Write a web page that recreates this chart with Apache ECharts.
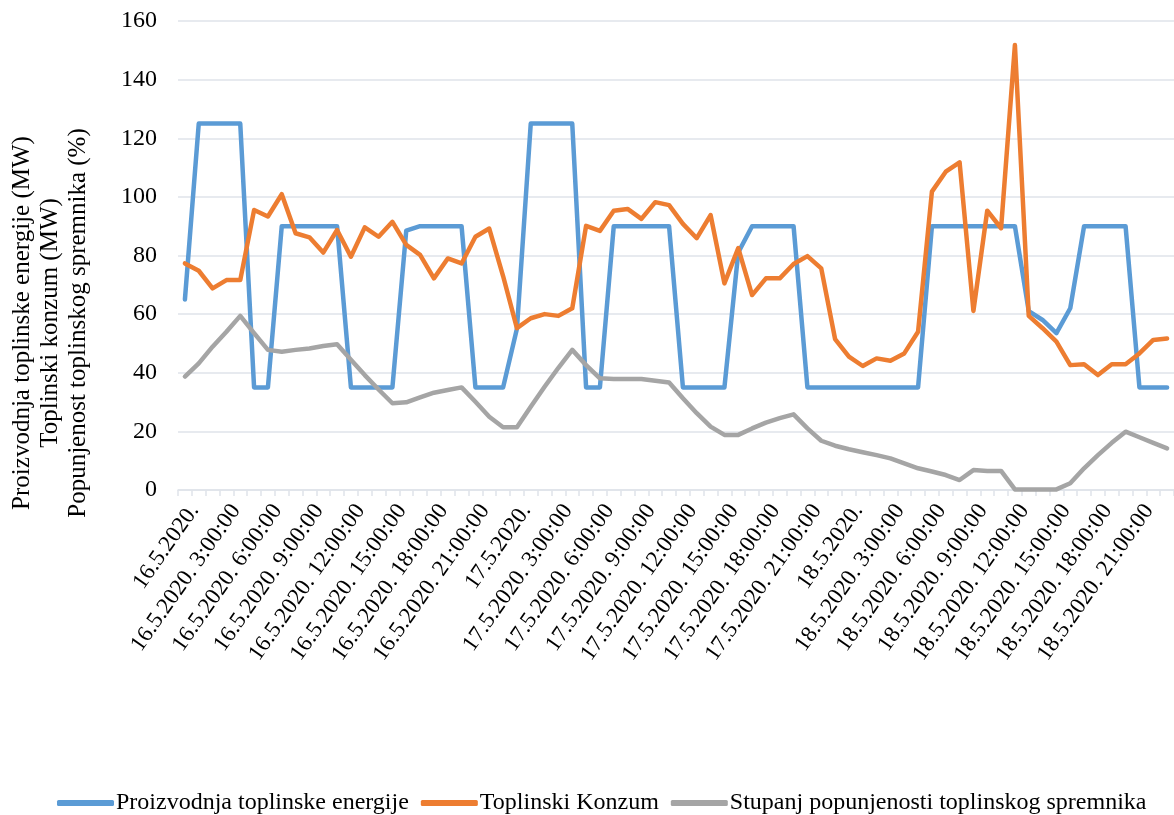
<!DOCTYPE html>
<html>
<head>
<meta charset="utf-8">
<script src="https://cdn.jsdelivr.net/npm/echarts@6/dist/echarts.min.js"></script>
<style>
html,body{margin:0;padding:0;background:#fff;}
#chart{width:1174px;height:815px;}
</style>
</head>
<body>
<div id="chart"></div>
<script>
// Category labels: hourly, 16.5.2020 - 18.5.2020
const days = ['16.5.2020.', '17.5.2020.', '18.5.2020.'];
const hours = ['', '1:00:00', '2:00:00', '3:00:00', '4:00:00', '5:00:00', '6:00:00', '7:00:00', '8:00:00', '9:00:00', '10:00:00', '11:00:00',
  '12:00:00', '13:00:00', '14:00:00', '15:00:00', '16:00:00', '17:00:00', '18:00:00', '19:00:00', '20:00:00', '21:00:00', '22:00:00', '23:00:00'];
const categories = [];
days.forEach(d => hours.forEach(h => categories.push(h ? d + ' ' + h : d)));

const seriesNames = ['Proizvodnja toplinske energije', 'Toplinski Konzum', 'Stupanj popunjenosti toplinskog spremnika'];

const proizvodnja = [
  65, 125, 125, 125, 125, 35, 35, 90, 90, 90, 90, 90,
  35, 35, 35, 35, 88.5, 90, 90, 90, 90, 35, 35, 35,
  55, 125, 125, 125, 125, 35, 35, 90, 90, 90, 90, 90,
  35, 35, 35, 35, 81, 90, 90, 90, 90, 35, 35, 35,
  35, 35, 35, 35, 35, 35, 90, 90, 90, 90, 90, 90,
  90, 61, 58, 53.5, 62, 90, 90, 90, 90, 35, 35, 35
];
const konzum = [
  77.3, 74.8, 68.8, 71.6, 71.6, 95.5, 93.3, 100.9, 87.6, 86.2, 81.0, 88.7,
  79.6, 89.6, 86.4, 91.5, 83.6, 80.2, 72.2, 79.0, 77.3, 86.4, 89.2, 73.0,
  55.2, 58.6, 60.0, 59.4, 62.0, 90.1, 88.4, 95.3, 95.9, 92.5, 98.2, 97.2,
  90.8, 85.9, 93.8, 70.5, 82.5, 66.5, 72.2, 72.2, 77.1, 79.8, 75.6, 51.5,
  45.5, 42.3, 44.9, 44.1, 46.6, 54.0, 101.8, 108.6, 111.8, 61.1, 95.3, 89.3,
  151.8, 59.4, 55.2, 50.6, 42.6, 42.9, 39.2, 42.9, 42.9, 46.6, 51.2, 51.7
];
const spremnik = [
  38.7, 43.2, 48.9, 54.0, 59.4, 53.5, 47.8, 47.2, 47.8, 48.3, 49.1, 49.7,
  44.4, 39.2, 34.3, 29.6, 29.9, 31.6, 33.2, 34.1, 35.0, 30.1, 25.0, 21.4,
  21.4, 28.4, 35.2, 41.7, 47.8, 42.6, 38.1, 37.9, 37.9, 37.9, 37.3, 36.7,
  31.3, 26.2, 21.6, 18.8, 18.8, 21.0, 23.0, 24.5, 25.8, 21.0, 16.8, 15.1,
  13.9, 12.9, 11.9, 10.8, 9.1, 7.4, 6.3, 5.1, 3.4, 6.8, 6.5, 6.5,
  0.2, 0.2, 0.2, 0.2, 2.3, 7.4, 11.9, 16.1, 19.9, 18.0, 16.1, 14.2
];

const yTitle = 'Proizvodnja toplinske energije (MW)\nToplinski konzum (MW)\nPopunjenost toplinskog spremnika (%)';

const FONT = '"Liberation Serif", "Times New Roman", serif';
const colors = ['#5b9bd5', '#ed7d31', '#a5a5a5'];
const gridColor = '#dfe3ea';

const chart = echarts.init(document.getElementById('chart'), null, {renderer: 'canvas'});

function mkLine(name, data, color) {
  return {
    name: name,
    type: 'line',
    data: data,
    showSymbol: false,
    symbol: 'none',
    smooth: false,
    lineStyle: {color: color, width: 4.5, cap: 'round', join: 'round'},
    itemStyle: {color: color},
    emphasis: {disabled: true},
    animation: false
  };
}

chart.setOption({
  animation: false,
  color: colors,
  textStyle: {fontFamily: FONT, color: '#000'},
  grid: {left: 178, top: 21, width: 1000, height: 469, containLabel: false},
  legend: {
    left: 52,
    top: 786,
    icon: 'roundRect',
    itemWidth: 57,
    itemHeight: 6,
    itemGap: 12,
    textStyle: {fontFamily: FONT, fontSize: 24, color: '#000', padding: [0, 0, 0, -3]},
    data: seriesNames
  },
  graphic: [{
    type: 'text',
    x: 50,
    y: 323,
    rotation: Math.PI / 2,
    style: {
      text: yTitle,
      fontFamily: FONT,
      fontSize: 25,
      lineHeight: 28,
      fill: '#000',
      align: 'center',
      verticalAlign: 'middle'
    }
  }],
  xAxis: {
    type: 'category',
    data: categories,
    boundaryGap: true,
    axisLine: {lineStyle: {color: gridColor, width: 1.5}},
    axisTick: {show: true, interval: 0, length: 6, lineStyle: {color: gridColor, width: 1.5}},
    axisLabel: {
      interval: 2,
      rotate: 55,
      margin: 10,
      align: 'right',
      verticalAlign: 'top',
      fontFamily: FONT,
      fontSize: 23,
      color: '#000'
    },
    splitLine: {show: false}
  },
  yAxis: {
    type: 'value',
    min: 0,
    max: 160,
    interval: 20,
    axisLine: {show: false},
    axisTick: {show: false},
    axisLabel: {margin: 21, fontFamily: FONT, fontSize: 24, color: '#000'},
    splitLine: {lineStyle: {color: gridColor, width: 1.5}}
  },
  series: [
    mkLine(seriesNames[0], proizvodnja, colors[0]),
    mkLine(seriesNames[1], konzum, colors[1]),
    mkLine(seriesNames[2], spremnik, colors[2])
  ]
});
</script>
</body>
</html>
